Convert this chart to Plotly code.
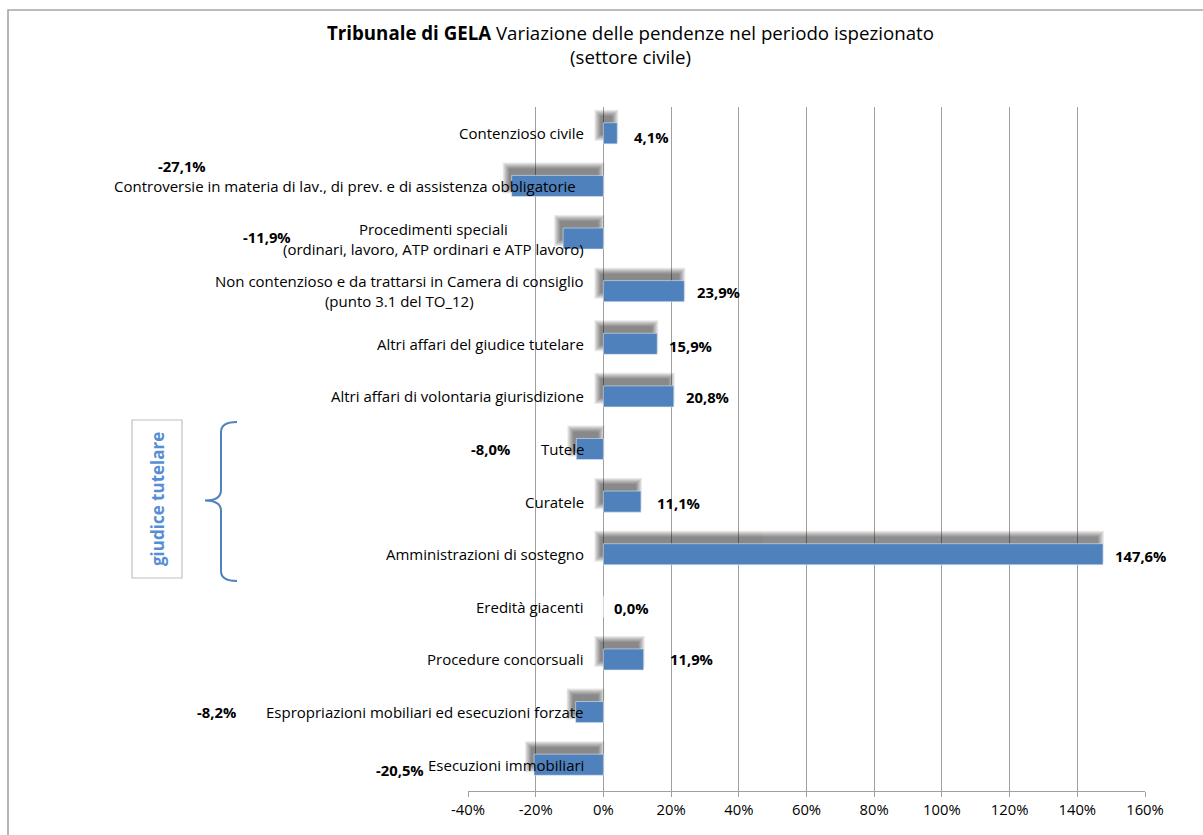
import plotly.graph_objects as go

# ── Data ──
categories = [
    "Contenzioso civile",
    "Controversie in materia di lav., di prev. e di assistenza obbligatorie",
    "Procedimenti speciali<br>(ordinari, lavoro, ATP ordinari e ATP lavoro)",
    "Non contenzioso e da trattarsi in Camera di consiglio<br>(punto 3.1 del TO_12)",
    "Altri affari del giudice tutelare",
    "Altri affari di volontaria giurisdizione",
    "Tutele",
    "Curatele",
    "Amministrazioni di sostegno",
    "Eredità giacenti",
    "Procedure concorsuali",
    "Espropriazioni mobiliari ed esecuzioni forzate",
    "Esecuzioni immobiliari",
]
variazione = [0.041, -0.271, -0.119, 0.239, 0.159, 0.208, -0.080,
              0.111, 1.476, 0.000, 0.119, -0.082, -0.205]

tick_values = [-0.4, -0.2, 0.0, 0.2, 0.4, 0.6, 0.8, 1.0, 1.2, 1.4, 1.6]
tick_labels = ["-40%", "-20%", "0%", "20%", "40%", "60%", "80%",
               "100%", "120%", "140%", "160%"]

# manual placement of the data labels (pixel shifts from the bar end)
label_dx = [15, -304, -270, 11, 10, 10, -64, 14, 10, 9, 24, -338, -108]
label_dy = [-4, 20, 2, -1, -2, -1, 0, -1, -2, -1, 0, 0, -5]
# gap between category label and the zero line
cat_dx = [-17, -25, -17, -17, -17, -17, -17, -17, -17, -17, -17, -17, -17]

FONT = "Open Sans"
BAR_BLUE = "#4F81BD"
W, H = 1203, 835
M_L, M_R, M_T, M_B = 468, 58, 107, 44
PX_PER_UNIT_X = (W - M_L - M_R) / 2.0     # x range is 200 percentage points
PX_PER_CAT = (H - M_T - M_B) / len(categories)


def px(x):
    return (x - M_L) / (W - M_L - M_R)


def py(y):
    return (H - M_B - y) / (H - M_T - M_B)


fig = go.Figure()

# ── Soft drop shadow (up-left of each bar), built from translucent layers ──
BAR_W = 0.4
SH_DX, SH_DY = 4, 8          # shadow offset in px (left, up)
for k in range(6, -1, -1):
    sx = (k - 1) / PX_PER_UNIT_X
    sy = (k - 1) / PX_PER_CAT
    base = [min(0, v) - SH_DX / PX_PER_UNIT_X - sx for v in variazione]
    length = [max(abs(v) + 2 * sx, 0) if v != 0 else 0 for v in variazione]
    width = BAR_W + 2 * sy
    fig.add_trace(go.Bar(
        y=categories,
        x=length,
        base=base,
        orientation='h',
        width=width,
        offset=-width / 2 - SH_DY / PX_PER_CAT,
        marker=dict(color='black', line=dict(width=0)),
        opacity=0.08,
        hoverinfo='skip',
        showlegend=False,
    ))

fig.add_trace(go.Bar(
    y=categories,
    x=variazione,
    orientation='h',
    width=BAR_W,
    offset=-BAR_W / 2,
    marker=dict(color=BAR_BLUE, line=dict(color='#dce6f2', width=0.6)),
    showlegend=False,
))

annotations = []

# category labels, drawn next to the zero line (over the bars, as in Excel)
for cat, dx in zip(categories, cat_dx):
    annotations.append(dict(
        x=0, y=cat, xref='x', yref='y',
        text=cat, showarrow=False,
        xanchor='right', yanchor='middle', align='center',
        xshift=dx,
        font=dict(family=FONT, size=15, color='#000000'),
    ))

# data labels
for cat, v, dx, dy in zip(categories, variazione, label_dx, label_dy):
    annotations.append(dict(
        x=v, y=cat, xref='x', yref='y',
        text='<b>' + f"{v * 100:.1f}%".replace('.', ',') + '</b>',
        showarrow=False,
        xanchor='right' if v < 0 else 'left', yanchor='middle',
        xshift=dx, yshift=dy,
        font=dict(family=FONT, size=14.8, color='#000000'),
    ))

# title
annotations.append(dict(
    x=px(630), y=py(44), xref='paper', yref='paper',
    text='<b>Tribunale di GELA</b> Variazione delle pendenze nel periodo ispezionato'
         '<br>(settore civile)',
    showarrow=False, xanchor='center', yanchor='middle', align='center',
    font=dict(family=FONT, size=18.7, color='#000000'),
))

# "giudice tutelare" side note
annotations.append(dict(
    x=px(157), y=py(499), xref='paper', yref='paper',
    text='<b>giudice tutelare</b>', textangle=-90,
    showarrow=False, xanchor='center', yanchor='middle',
    font=dict(family=FONT, size=17, color='#558ED5'),
))

brace_pts = ("M {0} {1} Q {2} {1} {2} {3} L {2} {4} Q {2} {5} {6} {5} "
             "Q {2} {5} {2} {7} L {2} {8} Q {2} {9} {0} {9}").format(
    px(237), py(422), px(221), py(432), py(490), py(500.5), px(205),
    py(511), py(571), py(581))

shapes = [
    # chart border (top and left edges visible)
    dict(type='rect', xref='paper', yref='paper',
         x0=px(8), x1=px(1215), y0=py(850), y1=py(10),
         line=dict(color='#a6a6a6', width=1.6), layer='below'),
    # text box
    dict(type='rect', xref='paper', yref='paper',
         x0=px(132), x1=px(182), y0=py(578), y1=py(420),
         line=dict(color='#c0c0c0', width=1.2), fillcolor='white'),
    # curly brace
    dict(type='path', xref='paper', yref='paper', path=brace_pts,
         line=dict(color=BAR_BLUE, width=2)),
]

fig.update_layout(
    width=W, height=H,
    margin=dict(l=M_L, r=M_R, t=M_T, b=M_B, pad=0),
    barmode='overlay',
    separators=',.',
    plot_bgcolor='white',
    paper_bgcolor='white',
    font=dict(family=FONT, size=14, color='#000000'),
    xaxis=dict(
        range=[-0.4, 1.6],
        tickvals=tick_values,
        ticktext=tick_labels,
        showgrid=True, gridcolor='#a0a0a0', gridwidth=1,
        zeroline=False,
        showline=True, linecolor='#a0a0a0', linewidth=1,
        ticks='outside', ticklen=5, tickcolor='#a0a0a0',
        tickfont=dict(family=FONT, size=14.8, color='#000000'),
        fixedrange=True,
    ),
    yaxis=dict(
        autorange='reversed',
        showticklabels=False,
        showgrid=False, zeroline=False, showline=False,
        ticks='',
        fixedrange=True,
    ),
    annotations=annotations,
    shapes=shapes,
)

fig.write_html("out.html", config={'displayModeBar': False},
               post_script="document.body.style.margin='0';")
